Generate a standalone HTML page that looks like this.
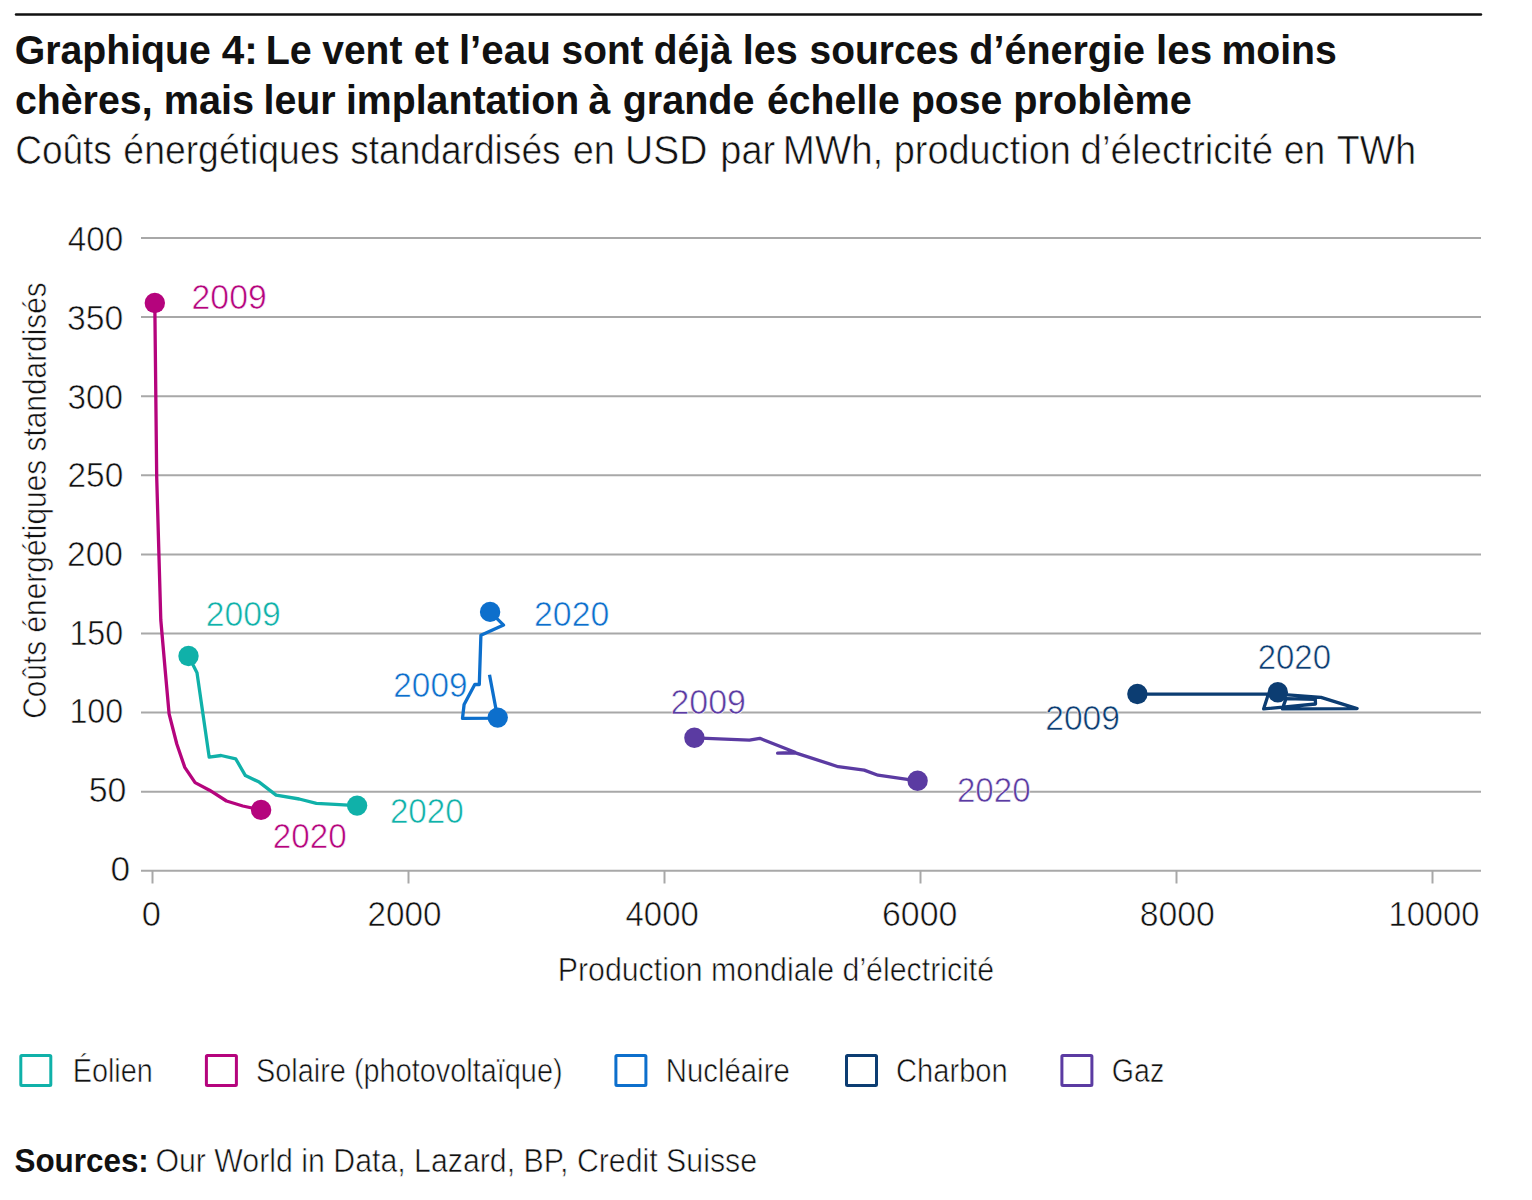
<!DOCTYPE html>
<html><head><meta charset="utf-8"><style>
html,body{margin:0;padding:0;background:#fff;width:1532px;height:1200px;overflow:hidden}
svg{display:block}
text{font-family:"Liberation Sans",sans-serif;white-space:pre}
</style></head><body>
<svg width="1532" height="1200" viewBox="0 0 1532 1200">
<line x1="16" y1="14.5" x2="1481" y2="14.5" stroke="#111" stroke-width="2.4" stroke-linecap="round"/>
<line x1="141" y1="870.8" x2="1481" y2="870.8" stroke="#a8a8a8" stroke-width="2"/>
<line x1="141" y1="791.7" x2="1481" y2="791.7" stroke="#a8a8a8" stroke-width="2"/>
<line x1="141" y1="712.6" x2="1481" y2="712.6" stroke="#a8a8a8" stroke-width="2"/>
<line x1="141" y1="633.5" x2="1481" y2="633.5" stroke="#a8a8a8" stroke-width="2"/>
<line x1="141" y1="554.4" x2="1481" y2="554.4" stroke="#a8a8a8" stroke-width="2"/>
<line x1="141" y1="475.3" x2="1481" y2="475.3" stroke="#a8a8a8" stroke-width="2"/>
<line x1="141" y1="396.2" x2="1481" y2="396.2" stroke="#a8a8a8" stroke-width="2"/>
<line x1="141" y1="317.1" x2="1481" y2="317.1" stroke="#a8a8a8" stroke-width="2"/>
<line x1="141" y1="238.0" x2="1481" y2="238.0" stroke="#a8a8a8" stroke-width="2"/>
<line x1="152.5" y1="870.8" x2="152.5" y2="883.5" stroke="#a8a8a8" stroke-width="2"/>
<line x1="408.5" y1="870.8" x2="408.5" y2="883.5" stroke="#a8a8a8" stroke-width="2"/>
<line x1="664.5" y1="870.8" x2="664.5" y2="883.5" stroke="#a8a8a8" stroke-width="2"/>
<line x1="920.5" y1="870.8" x2="920.5" y2="883.5" stroke="#a8a8a8" stroke-width="2"/>
<line x1="1176.5" y1="870.8" x2="1176.5" y2="883.5" stroke="#a8a8a8" stroke-width="2"/>
<line x1="1432.5" y1="870.8" x2="1432.5" y2="883.5" stroke="#a8a8a8" stroke-width="2"/>
<polyline points="154.8,303.0 156.7,477.0 160.8,620.0 165.3,671.5 169.1,713.8 176.8,744.0 184.8,767.4 195.1,782.6 209.5,790.2 226.5,801.0 242.8,806.0 261.1,809.9" fill="none" stroke="#b5047d" stroke-width="3.3" stroke-linejoin="round"/>
<circle cx="154.8" cy="303.0" r="10.2" fill="#b5047d"/>
<circle cx="261.1" cy="809.9" r="10.2" fill="#b5047d"/>
<polyline points="188.5,656.0 197.0,672.8 209.2,757.2 221.1,755.5 235.7,758.8 245.4,775.6 259.2,782.1 276.1,795.1 299.2,799.0 316.4,803.3 335.0,804.3 357.1,805.6" fill="none" stroke="#10b1a9" stroke-width="3.3" stroke-linejoin="round"/>
<circle cx="188.5" cy="656.0" r="10.2" fill="#10b1a9"/>
<circle cx="357.1" cy="805.6" r="10.2" fill="#10b1a9"/>
<polyline points="489.5,674.8 497.7,718.2 462.5,718.4 464.1,704.5 474.9,684.3 479.3,684.5 480.9,635.2 503.6,625.1 490.1,611.9" fill="none" stroke="#0d6fcc" stroke-width="3.3" stroke-linejoin="round"/>
<circle cx="497.7" cy="717.6" r="10.2" fill="#0d6fcc"/>
<circle cx="490.1" cy="611.9" r="10.2" fill="#0d6fcc"/>
<polyline points="694.4,737.8 749.4,740.1 759.8,738.3 795.0,752.3 777.6,753.2 795.5,752.9 838.2,766.7 864.2,770.1 878.0,775.2 917.6,780.8" fill="none" stroke="#5b3ba2" stroke-width="3.3" stroke-linejoin="round"/>
<circle cx="694.4" cy="737.8" r="10.2" fill="#5b3ba2"/>
<circle cx="917.6" cy="780.8" r="10.2" fill="#5b3ba2"/>
<polyline points="1137.4,694.2 1277.8,694.2 1321.0,697.4 1357.1,708.6 1282.4,708.9 1286.0,698.6 1315.3,699.3 1315.5,704.0 1263.6,708.9 1267.7,696.2 1277.8,692.2" fill="none" stroke="#0c3d72" stroke-width="3.3" stroke-linejoin="round"/>
<circle cx="1137.4" cy="694.0" r="10.2" fill="#0c3d72"/>
<circle cx="1277.8" cy="692.2" r="10.2" fill="#0c3d72"/>
<rect x="20.8" y="1055.5" width="30" height="30" rx="1" fill="none" stroke="#10b1a9" stroke-width="3"/>
<rect x="206.4" y="1055.5" width="30" height="30" rx="1" fill="none" stroke="#b5047d" stroke-width="3"/>
<rect x="615.9" y="1055.5" width="30" height="30" rx="1" fill="none" stroke="#0d6fcc" stroke-width="3"/>
<rect x="846.5" y="1055.5" width="30" height="30" rx="1" fill="none" stroke="#0c3d72" stroke-width="3"/>
<rect x="1061.9" y="1055.5" width="30" height="30" rx="1" fill="none" stroke="#5b3ba2" stroke-width="3"/>
<text transform="translate(46.40,718.81) rotate(-90) scale(0.9192,1)" font-weight="400" font-size="32.5" fill="#111111" stroke="#fff" stroke-width="0.6">Coûts énergétiques standardisés</text>
<text transform="translate(557.73,981.10) scale(0.9330,1)" font-weight="400" font-size="32.5" fill="#111111" stroke="#fff" stroke-width="0.6">Production mondiale d’électricité</text>
<text transform="translate(72.66,1081.60) scale(0.8877,1)" font-weight="400" font-size="32.5" fill="#111111" stroke="#fff" stroke-width="0.6">Éolien</text>
<text transform="translate(255.97,1081.60) scale(0.8890,1)" font-weight="400" font-size="32.5" fill="#111111" stroke="#fff" stroke-width="0.6">Solaire (photovoltaïque)</text>
<text transform="translate(665.71,1081.60) scale(0.9038,1)" font-weight="400" font-size="32.5" fill="#111111" stroke="#fff" stroke-width="0.6">Nucléaire</text>
<text transform="translate(896.03,1081.60) scale(0.8961,1)" font-weight="400" font-size="32.5" fill="#111111" stroke="#fff" stroke-width="0.6">Charbon</text>
<text transform="translate(1111.86,1081.60) scale(0.8782,1)" font-weight="400" font-size="32.5" fill="#111111" stroke="#fff" stroke-width="0.6">Gaz</text>
<text transform="translate(14.43,1171.70) scale(0.9667,1)" font-weight="700" font-size="32.5" fill="#111111">Sources:</text>
<text transform="translate(155.40,1171.70) scale(0.9326,1)" font-weight="400" font-size="32.5" fill="#111111" stroke="#fff" stroke-width="0.6">Our World in Data, Lazard, BP, Credit Suisse</text>
<text transform="translate(191.59,309.05) scale(0.9788,1)" font-weight="400" font-size="34.5" fill="#b5047d" stroke="#fff" stroke-width="0.6">2009</text>
<text transform="translate(272.82,848.15) scale(0.9614,1)" font-weight="400" font-size="34.5" fill="#b5047d" stroke="#fff" stroke-width="0.6">2020</text>
<text transform="translate(205.79,625.75) scale(0.9761,1)" font-weight="400" font-size="34.5" fill="#10b1a9" stroke="#fff" stroke-width="0.6">2009</text>
<text transform="translate(389.92,823.35) scale(0.9614,1)" font-weight="400" font-size="34.5" fill="#10b1a9" stroke="#fff" stroke-width="0.6">2020</text>
<text transform="translate(393.31,696.65) scale(0.9666,1)" font-weight="400" font-size="34.5" fill="#0d6fcc" stroke="#fff" stroke-width="0.6">2009</text>
<text transform="translate(533.98,626.05) scale(0.9817,1)" font-weight="400" font-size="34.5" fill="#0d6fcc" stroke="#fff" stroke-width="0.6">2020</text>
<text transform="translate(670.38,714.35) scale(0.9843,1)" font-weight="400" font-size="34.5" fill="#5b3ba2" stroke="#fff" stroke-width="0.6">2009</text>
<text transform="translate(956.92,801.55) scale(0.9600,1)" font-weight="400" font-size="34.5" fill="#5b3ba2" stroke="#fff" stroke-width="0.6">2020</text>
<text transform="translate(1045.19,729.85) scale(0.9747,1)" font-weight="400" font-size="34.5" fill="#0c3d72" stroke="#fff" stroke-width="0.6">2009</text>
<text transform="translate(1257.63,669.15) scale(0.9559,1)" font-weight="400" font-size="34.5" fill="#0c3d72" stroke="#fff" stroke-width="0.6">2020</text>
<text transform="translate(14.64,64.00) scale(0.9482,1)" font-weight="700" font-size="41.4" fill="#111111">Graphique</text>
<text transform="translate(221.77,64.00) scale(0.9781,1)" font-weight="700" font-size="41.4" fill="#111111">4:</text>
<text transform="translate(265.66,64.00) scale(0.9544,1)" font-weight="700" font-size="41.4" fill="#111111">Le</text>
<text transform="translate(322.26,64.00) scale(0.9412,1)" font-weight="700" font-size="41.4" fill="#111111">vent</text>
<text transform="translate(413.79,64.00) scale(0.9544,1)" font-weight="700" font-size="41.4" fill="#111111">et</text>
<text transform="translate(458.88,64.00) scale(0.9740,1)" font-weight="700" font-size="41.4" fill="#111111">l’eau</text>
<text transform="translate(561.59,64.00) scale(0.9384,1)" font-weight="700" font-size="41.4" fill="#111111">sont</text>
<text transform="translate(653.86,64.00) scale(0.9391,1)" font-weight="700" font-size="41.4" fill="#111111">déjà</text>
<text transform="translate(742.72,64.00) scale(0.9544,1)" font-weight="700" font-size="41.4" fill="#111111">les</text>
<text transform="translate(809.59,64.00) scale(0.9408,1)" font-weight="700" font-size="41.4" fill="#111111">sources</text>
<text transform="translate(969.33,64.00) scale(0.9544,1)" font-weight="700" font-size="41.4" fill="#111111">d’énergie</text>
<text transform="translate(1156.08,64.00) scale(0.9725,1)" font-weight="700" font-size="41.4" fill="#111111">les</text>
<text transform="translate(1221.40,64.00) scale(0.9472,1)" font-weight="700" font-size="41.4" fill="#111111">moins</text>
<text transform="translate(14.88,113.50) scale(0.9499,1)" font-weight="700" font-size="41.4" fill="#111111">chères,</text>
<text transform="translate(163.67,113.50) scale(0.9578,1)" font-weight="700" font-size="41.4" fill="#111111">mais</text>
<text transform="translate(263.45,113.50) scale(0.9509,1)" font-weight="700" font-size="41.4" fill="#111111">leur</text>
<text transform="translate(345.96,113.50) scale(0.9480,1)" font-weight="700" font-size="41.4" fill="#111111">implantation</text>
<text transform="translate(588.50,113.50) scale(0.9499,1)" font-weight="700" font-size="41.4" fill="#111111">à</text>
<text transform="translate(622.63,113.50) scale(0.9551,1)" font-weight="700" font-size="41.4" fill="#111111">grande</text>
<text transform="translate(767.08,113.50) scale(0.9455,1)" font-weight="700" font-size="41.4" fill="#111111">échelle</text>
<text transform="translate(910.90,113.50) scale(0.9459,1)" font-weight="700" font-size="41.4" fill="#111111">pose</text>
<text transform="translate(1013.37,113.50) scale(0.9577,1)" font-weight="700" font-size="41.4" fill="#111111">problème</text>
<text transform="translate(15.15,163.60) scale(0.9257,1)" font-weight="400" font-size="40" fill="#111111" stroke="#fff" stroke-width="0.6">Coûts</text>
<text transform="translate(123.37,163.60) scale(0.9342,1)" font-weight="400" font-size="40" fill="#111111" stroke="#fff" stroke-width="0.6">énergétiques</text>
<text transform="translate(350.14,163.60) scale(0.9286,1)" font-weight="400" font-size="40" fill="#111111" stroke="#fff" stroke-width="0.6">standardisés</text>
<text transform="translate(572.64,163.60) scale(0.9491,1)" font-weight="400" font-size="40" fill="#111111" stroke="#fff" stroke-width="0.6">en</text>
<text transform="translate(625.08,163.60) scale(0.9748,1)" font-weight="400" font-size="40" fill="#111111" stroke="#fff" stroke-width="0.6">USD</text>
<text transform="translate(720.30,163.60) scale(0.9491,1)" font-weight="400" font-size="40" fill="#111111" stroke="#fff" stroke-width="0.6">par</text>
<text transform="translate(782.87,163.60) scale(0.9621,1)" font-weight="400" font-size="40" fill="#111111" stroke="#fff" stroke-width="0.6">MWh,</text>
<text transform="translate(893.63,163.60) scale(0.9491,1)" font-weight="400" font-size="40" fill="#111111" stroke="#fff" stroke-width="0.6">production</text>
<text transform="translate(1080.62,163.60) scale(0.9628,1)" font-weight="400" font-size="40" fill="#111111" stroke="#fff" stroke-width="0.6">d’électricité</text>
<text transform="translate(1283.67,163.60) scale(0.9317,1)" font-weight="400" font-size="40" fill="#111111" stroke="#fff" stroke-width="0.6">en</text>
<text transform="translate(1336.86,163.60) scale(0.9375,1)" font-weight="400" font-size="40" fill="#111111" stroke="#fff" stroke-width="0.6">TWh</text>
<text transform="translate(67.68,251.35) scale(0.9640,1)" font-weight="400" font-size="34.5" fill="#111111" stroke="#fff" stroke-width="0.6">400</text>
<text transform="translate(67.08,330.05) scale(0.9764,1)" font-weight="400" font-size="34.5" fill="#111111" stroke="#fff" stroke-width="0.6">350</text>
<text transform="translate(67.50,408.95) scale(0.9636,1)" font-weight="400" font-size="34.5" fill="#111111" stroke="#fff" stroke-width="0.6">300</text>
<text transform="translate(67.50,487.25) scale(0.9688,1)" font-weight="400" font-size="34.5" fill="#111111" stroke="#fff" stroke-width="0.6">250</text>
<text transform="translate(67.00,566.05) scale(0.9725,1)" font-weight="400" font-size="34.5" fill="#111111" stroke="#fff" stroke-width="0.6">200</text>
<text transform="translate(69.43,644.75) scale(0.9346,1)" font-weight="400" font-size="34.5" fill="#111111" stroke="#fff" stroke-width="0.6">150</text>
<text transform="translate(69.43,723.05) scale(0.9346,1)" font-weight="400" font-size="34.5" fill="#111111" stroke="#fff" stroke-width="0.6">100</text>
<text transform="translate(88.73,801.75) scale(0.9831,1)" font-weight="400" font-size="34.5" fill="#111111" stroke="#fff" stroke-width="0.6">50</text>
<text transform="translate(110.52,881.45) scale(1.0242,1)" font-weight="400" font-size="34.5" fill="#111111" stroke="#fff" stroke-width="0.6">0</text>
<text transform="translate(141.75,926.05) scale(1.0000,1)" font-weight="400" font-size="34.5" fill="#111111" stroke="#fff" stroke-width="0.6">0</text>
<text transform="translate(367.41,926.05) scale(0.9654,1)" font-weight="400" font-size="34.5" fill="#111111" stroke="#fff" stroke-width="0.6">2000</text>
<text transform="translate(625.59,926.05) scale(0.9525,1)" font-weight="400" font-size="34.5" fill="#111111" stroke="#fff" stroke-width="0.6">4000</text>
<text transform="translate(881.98,926.05) scale(0.9831,1)" font-weight="400" font-size="34.5" fill="#111111" stroke="#fff" stroke-width="0.6">6000</text>
<text transform="translate(1139.63,926.05) scale(0.9797,1)" font-weight="400" font-size="34.5" fill="#111111" stroke="#fff" stroke-width="0.6">8000</text>
<text transform="translate(1388.50,926.05) scale(0.9471,1)" font-weight="400" font-size="34.5" fill="#111111" stroke="#fff" stroke-width="0.6">10000</text>
</svg>
</body></html>
